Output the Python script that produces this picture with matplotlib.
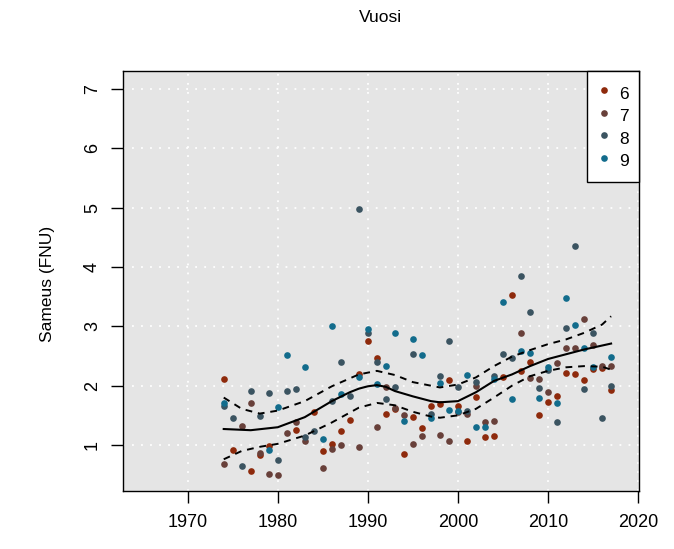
import numpy as np
import matplotlib
matplotlib.use("Agg")
import matplotlib.pyplot as plt
from matplotlib.lines import Line2D

plt.rcParams['font.family'] = ['Liberation Sans', 'DejaVu Sans']

nan = np.nan
years = list(range(1974, 2018))

# turbidity by month (6..9), one value per year, nan = no sample
m6 = [2.11, 0.92, nan, 0.57, 0.83, 0.99, nan, nan, 1.26, nan, 1.56, 0.90, 1.02, 1.24, 1.43,
      2.19, 2.76, 2.46, 1.52, 1.60, 0.85, 1.47, 1.28, 1.66, 1.69, 2.09, 1.66, 1.07, 1.81, 1.14,
      1.16, 2.15, 3.52, 2.25, 2.40, 1.51, 1.73, 1.83, 2.21, 2.19, 2.09, 2.28, 2.29, 1.92]
m7 = [0.68, nan, 1.32, 1.71, 0.87, 0.51, 0.50, 1.20, 1.38, 1.07, nan, 0.61, 0.93, 1.00, nan,
      0.97, nan, 1.31, 1.97, 1.63, 1.50, 1.02, 1.16, nan, 1.17, 1.06, 1.55, 1.52, 2.00, 1.39,
      1.41, nan, nan, 2.88, 2.13, 2.11, 1.89, 2.38, 2.64, 2.63, 3.13, 2.68, 2.34, 2.34]
m8 = [1.66, 1.46, 0.65, 1.91, 1.49, 1.87, 0.74, 1.91, 1.94, 1.14, 1.24, nan, 1.74, 2.40, 1.83,
      4.97, 2.89, 2.40, 1.77, 1.97, nan, 2.53, nan, 1.52, 2.16, 2.75, 1.97, 1.58, 2.06, nan,
      2.16, 2.54, 2.46, 3.85, 3.24, 1.96, 2.27, 1.38, 2.97, 4.36, 1.94, 2.88, 1.45, 2.00]
m9 = [1.70, nan, nan, nan, nan, 0.92, 1.64, 2.51, nan, 2.31, nan, 1.10, 3.00, 1.86, nan,
      2.15, 2.95, 2.03, 2.34, 2.88, 1.40, 2.78, 2.51, 1.46, 2.04, 1.59, 1.57, 2.18, 1.30, 1.30,
      2.11, 3.41, 1.77, 2.59, 2.55, 1.79, 2.32, 1.71, 3.48, 3.03, 2.63, 2.32, nan, 2.48]

months = ['6', '7', '8', '9']
colors = ['#8E2A0C', '#68403A', '#3B5461', '#126C8C']

# smooth trend and its confidence band
fit_years = [1974, 1977, 1980, 1983, 1986, 1988, 1989, 1990, 1991, 1992, 1993, 1995, 1997,
             1998, 2000, 2002, 2004, 2006, 2008, 2010, 2012, 2014, 2017]
fit = [1.27, 1.25, 1.30, 1.47, 1.74, 1.89, 1.95, 1.99, 2.01, 1.98, 1.91, 1.82, 1.74,
       1.72, 1.74, 1.89, 2.08, 2.19, 2.33, 2.45, 2.53, 2.61, 2.71]
band_years = [1974, 1976, 1978, 1980, 1983, 1986, 1989, 1991, 1993, 1995, 1997, 1998, 2000,
              2002, 2004, 2006, 2008, 2010, 2012, 2014, 2016, 2017]
upper = [1.80, 1.61, 1.53, 1.58, 1.74, 1.99, 2.19, 2.25, 2.18, 2.06, 2.00, 1.97, 2.02,
         2.14, 2.33, 2.49, 2.60, 2.70, 2.78, 2.89, 3.03, 3.17]
lower = [0.76, 0.90, 0.97, 1.02, 1.16, 1.38, 1.63, 1.71, 1.67, 1.56, 1.48, 1.46, 1.50,
         1.61, 1.80, 2.00, 2.16, 2.25, 2.31, 2.33, 2.32, 2.27]

xticks = [1970, 1980, 1990, 2000, 2010, 2020]
yticks = [1, 2, 3, 4, 5, 6, 7]

fig = plt.figure(figsize=(6.74, 5.49), dpi=100)
ax = fig.add_axes([0.1829, 0.1056, 0.7652, 0.7642])
ax.set_facecolor('#E5E5E5')

ax.set_xlim(1962.85, 2020.1)
ax.set_ylim(0.225, 7.295)
ax.set_xticks(xticks)
ax.set_yticks(yticks)
ax.grid(True, color='white', linestyle=(0, (1, 4)), linewidth=1.3)
ax.set_axisbelow(True)

for vals, c in zip([m6, m7, m8, m9], colors):
    ax.plot(years, vals, linestyle='none', marker='o', markersize=4.8,
            markerfacecolor=c, markeredgecolor=c, markeredgewidth=0, zorder=3)

ax.plot(fit_years, fit, color='black', linewidth=1.5, zorder=4)
ax.plot(band_years, upper, color='black', linewidth=1.4, dashes=(3.5, 3), zorder=4)
ax.plot(band_years, lower, color='black', linewidth=1.4, dashes=(3.5, 3), zorder=4)

for s in ax.spines.values():
    s.set_linewidth(1.0)
    s.set_color('black')
ax.tick_params(axis='both', length=8.5, width=1.0, labelsize=13, color='black')
ax.tick_params(axis='x', pad=8)
ax.tick_params(axis='y', pad=7.5)
for lab in ax.get_yticklabels():
    lab.set_rotation(90)
    lab.set_va('center')

fig.text(380.5 / 674, 1 - 17 / 549, 'Vuosi', ha='center', va='center', fontsize=12.5)
fig.text(47.5 / 674, 1 - 283.5 / 549, 'Sameus (FNU)', ha='center', va='center',
         rotation=90, fontsize=12.5)

handles = [Line2D([], [], linestyle='none', marker='o', markersize=4.8,
                  markerfacecolor=c, markeredgewidth=0) for c in colors]
leg = ax.legend(handles, months, loc='upper right', borderaxespad=0, fontsize=12.5,
                frameon=True, fancybox=False, framealpha=1, edgecolor='black',
                handlelength=0.8, handletextpad=0.45, handleheight=1.65,
                labelspacing=-0.03, borderpad=0.6)
leg.get_frame().set_linewidth(1.0)

fig.savefig('out.png', dpi=100)
